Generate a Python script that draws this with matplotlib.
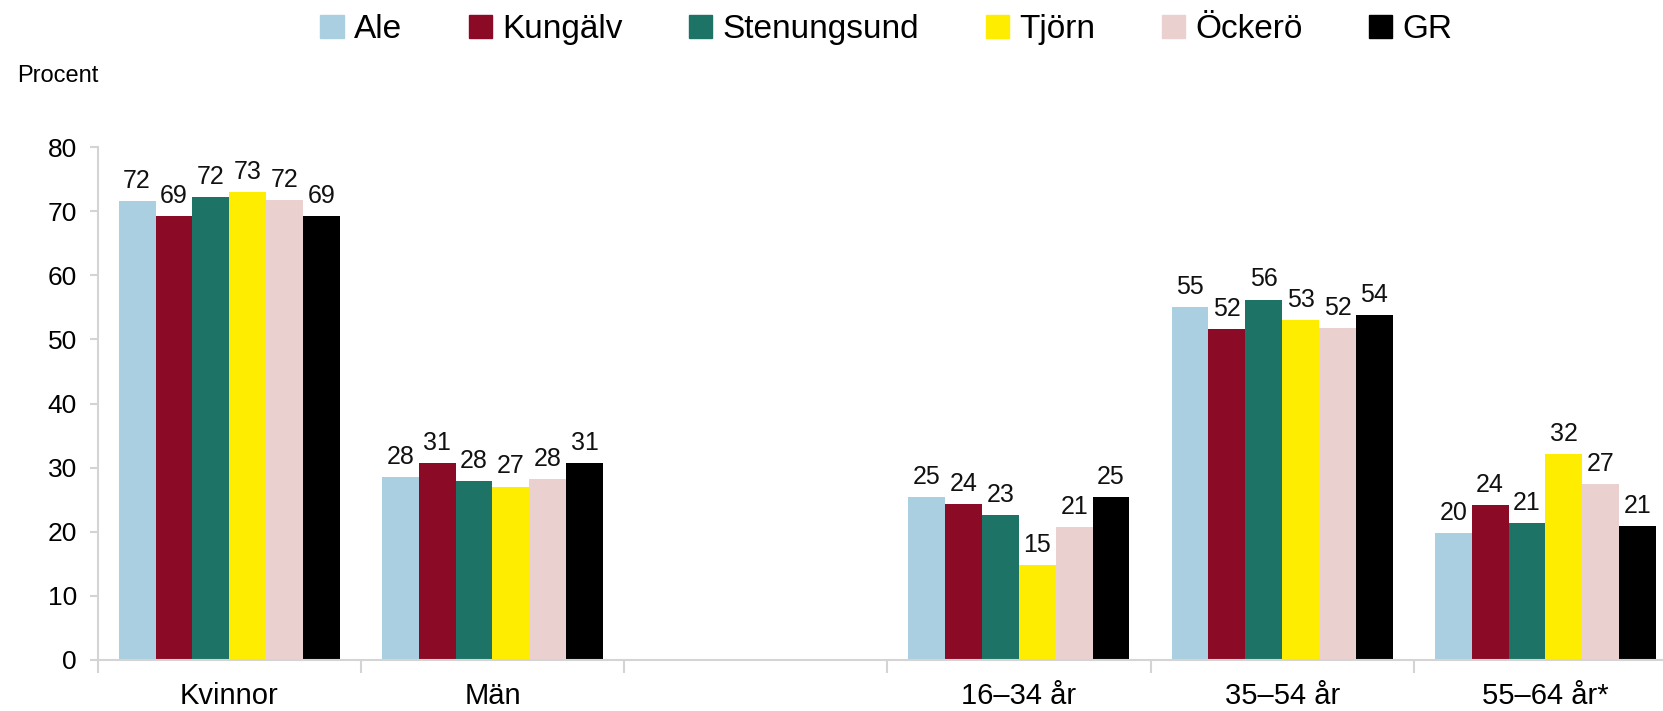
import numpy as np
import matplotlib.pyplot as plt
from matplotlib.patches import Patch

# kategorier på x-axeln (tom kategori mellan kön och ålder)
categories = ["Kvinnor", "Män", "", "16\u201334 år", "35\u201354 år", "55\u201364 år*"]
series = ["Ale", "Kungälv", "Stenungsund", "Tjörn", "Öckerö", "GR"]

ale = [71.6, 28.5, np.nan, 25.4, 55.0, 19.8]
kungalv = [69.3, 30.7, np.nan, 24.3, 51.6, 24.1]
stenungsund = [72.2, 27.9, np.nan, 22.6, 56.2, 21.3]
tjorn = [73.0, 27.0, np.nan, 14.8, 53.0, 32.1]
ockero = [71.8, 28.2, np.nan, 20.7, 51.8, 27.4]
gr = [69.3, 30.7, np.nan, 25.4, 53.8, 20.9]

colors = ["#AACFE0", "#8B0A25", "#1C7366", "#FFED00", "#EBD0D0", "#000000"]

values = [ale, kungalv, stenungsund, tjorn, ockero, gr]

font = ["Liberation Sans", "DejaVu Sans"]

fig = plt.figure(figsize=(16.63, 7.11), dpi=100)
ax = fig.add_axes([0.0587, 0.0722, 0.9497, 0.7205])

x = np.arange(len(categories))
width = 0.14
for i, (name, vals, c) in enumerate(zip(series, values, colors)):
    pos = x - 0.42 + width * (i + 0.5)
    ax.bar(pos, vals, width=width, color=c, label=name, zorder=2)
    for px, v in zip(pos, vals):
        if np.isnan(v):
            continue
        ax.annotate(f"{v:.0f}", (px, v), xytext=(0, 6), textcoords="offset points",
                    ha="center", va="bottom", fontsize=18, family=font,
                    color="#111111", clip_on=False)

ax.set_xlim(-0.5, len(categories) - 0.5)
ax.set_ylim(0, 80)
ax.set_yticks(range(0, 81, 10))

# kategorinamn i mitten, streck vid gränserna
ax.set_xticks(x)
ax.set_xticklabels(categories, family=font, fontsize=21)
ax.set_xticks(np.arange(-0.5, len(categories) + 0.5, 1), minor=True)
ax.tick_params(axis="x", which="major", length=0, pad=16)
ax.tick_params(axis="x", which="minor", length=9, color="#d4d4d4", width=1.5)
ax.tick_params(axis="y", length=6, color="#d4d4d4", width=1.5, labelsize=19, pad=9)
for lab in ax.get_yticklabels():
    lab.set_family(font)

for s in ["top", "right"]:
    ax.spines[s].set_visible(False)
for s in ["left", "bottom"]:
    ax.spines[s].set_color("#d4d4d4")
    ax.spines[s].set_linewidth(1.5)

fig.text(0.010, 0.893, "Procent", fontsize=17, family=font, va="center")

handles = [Patch(color=c, label=n) for n, c in zip(series, colors)]
fig.legend(handles=handles, loc="center", bbox_to_anchor=(0.533, 0.958), ncol=6,
           frameon=False, prop={"family": font, "size": 24},
           handlelength=0.7, handleheight=0.7, handletextpad=0.3, columnspacing=2.0)

fig.savefig("out.png", dpi=100)
